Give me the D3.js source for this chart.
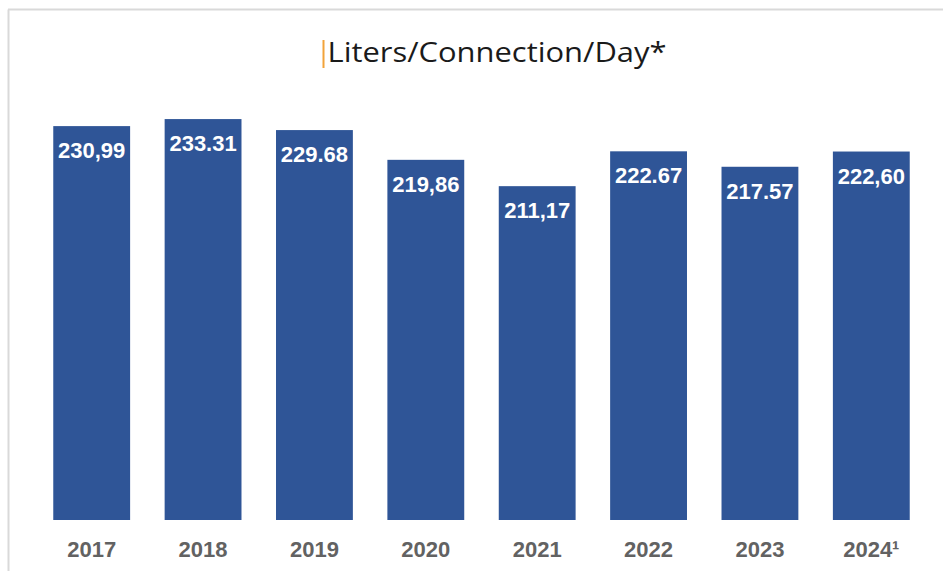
<!DOCTYPE html>
<html>
<head>
<meta charset="utf-8">
<script src="https://cdn.jsdelivr.net/npm/d3@7"></script>
<style>
  html, body { margin: 0; padding: 0; background: #ffffff; }
  svg { display: block; }
</style>
</head>
<body>
<svg id="chart" width="943" height="571"></svg>
<script>
const categories = ["2017", "2018", "2019", "2020", "2021", "2022", "2023", "2024¹"];
const values = [230.99, 233.31, 229.68, 219.86, 211.17, 222.67, 217.57, 222.60];
const valueLabels = ["230,99", "233.31", "229.68", "219,86", "211,17", "222.67", "217.57", "222,60"];
const title = "Liters/Connection/Day*";

const svg = d3.select("#chart");
const W = 943, H = 571;

// frame (left and top border)
svg.append("line").attr("x1", 8.5).attr("y1", 9.5).attr("x2", 8.5).attr("y2", H)
  .attr("stroke", "#d9d9d9").attr("stroke-width", 2);
svg.append("line").attr("x1", 8).attr("y1", 9.5).attr("x2", W).attr("y2", 9.5)
  .attr("stroke", "#d9d9d9").attr("stroke-width", 2);

const x = d3.scaleBand().domain(categories).range([36, 927]).paddingInner(0.31).paddingOuter(0.155);
const y = d3.scaleLinear().domain([101, 250]).range([520, 68.5]);

const data = categories.map((c, i) => ({ c, v: values[i], l: valueLabels[i] }));

svg.append("g").selectAll("rect").data(data).join("rect")
  .attr("x", d => x(d.c)).attr("width", x.bandwidth())
  .attr("y", d => y(d.v)).attr("height", d => y(101) - y(d.v))
  .attr("fill", "#2f5597");

svg.append("g").selectAll("text").data(data).join("text")
  .attr("x", d => x(d.c) + x.bandwidth() / 2)
  .attr("y", d => y(d.v) + 32)
  .attr("text-anchor", "middle")
  .attr("font-family", "Liberation Sans, Arial, sans-serif")
  .attr("font-weight", "bold").attr("font-size", 22)
  .attr("fill", "#ffffff")
  .text(d => d.l);

// x axis labels
const xAxis = d3.axisBottom(x).tickSize(0).tickPadding(0);
const gx = svg.append("g").attr("transform", "translate(0,557)").call(xAxis);
gx.select(".domain").remove();
gx.selectAll("text")
  .attr("dy", "0")
  .attr("font-family", "Liberation Sans, Arial, sans-serif")
  .attr("font-weight", "bold").attr("font-size", 22)
  .attr("fill", "#626262");

// title
const t = svg.append("text")
  .attr("x", 497).attr("y", 62)
  .attr("text-anchor", "middle")
  .attr("font-family", "Open Sans, Noto Sans, sans-serif")
  .attr("font-size", 27)
  .attr("textLength", 339)
  .attr("lengthAdjust", "spacingAndGlyphs")
  .attr("fill", "#1a1a1a")
  .text(title);
const bb = t.node().getBBox();
svg.append("rect").attr("x", bb.x - 5).attr("y", 40).attr("width", 2).attr("height", 28).attr("fill", "#f2a33a");
</script>
</body>
</html>
